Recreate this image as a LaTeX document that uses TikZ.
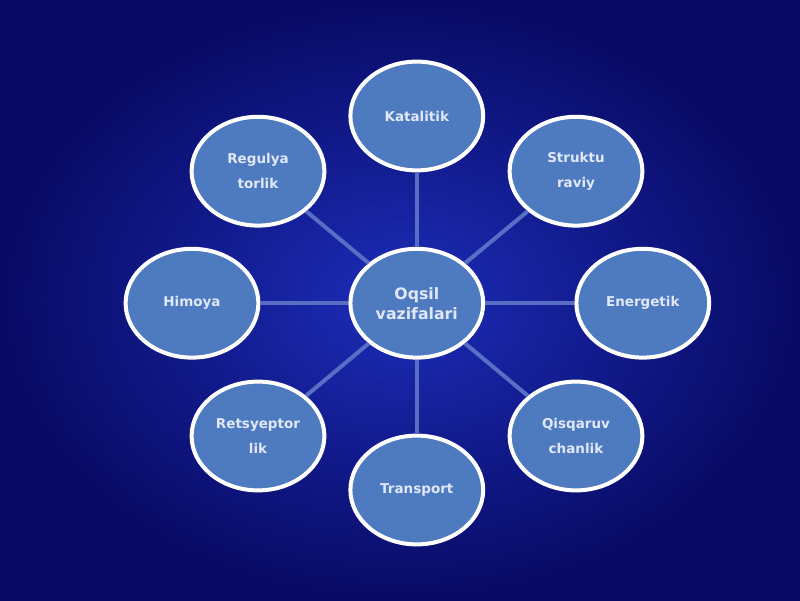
\documentclass[tikz,border=0pt]{standalone}
\usepackage{fontspec}
\setmainfont{DejaVu Sans}
\usepackage{tikz}
\usetikzlibrary{shapes.geometric}

\definecolor{bgdark}{RGB}{8,10,100}
\definecolor{bglight}{RGB}{28,45,185}
\definecolor{ballfill}{RGB}{78,122,192}
\definecolor{spoke}{RGB}{88,110,196}
\definecolor{labeltext}{RGB}{225,232,250}

\tikzset{
    ball/.style={ellipse, draw=white, line width=0.1cm, fill=ballfill,
        minimum width=3.32cm, minimum height=2.72cm, align=center,
        text=labeltext, font=\bfseries\fontsize{9.6}{17.8}\selectfont},
    hub/.style={ball, font=\bfseries\fontsize{11.2}{14.2}\selectfont},
    spokeline/.style={draw=spoke, line width=0.1cm}
}

\begin{document}
\begin{tikzpicture}
        \shade[inner color=bglight, outer color=bgdark] (0,0) rectangle (20,15);
        \useasboundingbox (0,0) rectangle (20,15);
        % ring of functions round the hub
        \node[hub] (oqsil) at (10.42,7.42) {Oqsil\\vazifalari};
        \node[ball] (katal) at (10.42,12.1) {Katalitik};
        \node[ball] (strukt) at (14.4,10.72) {Struktu\\raviy};
        \node[ball] (energ) at (16.07,7.42) {Energetik};
        \node[ball] (qisq) at (14.4,4.1) {Qisqaruv\\chanlik};
        \node[ball] (trans) at (10.42,2.75) {Transport};
        \node[ball] (retsep) at (6.45,4.1) {Retsyeptor\\lik};
        \node[ball] (himoya) at (4.8,7.42) {Himoya};
        \node[ball] (regul) at (6.45,10.72) {Regulya\\torlik};
        % spokes
        \draw[spokeline] (oqsil) -- (katal);
        \draw[spokeline] (oqsil) -- (strukt);
        \draw[spokeline] (oqsil) -- (energ);
        \draw[spokeline] (oqsil) -- (qisq);
        \draw[spokeline] (oqsil) -- (trans);
        \draw[spokeline] (oqsil) -- (retsep);
        \draw[spokeline] (oqsil) -- (himoya);
        \draw[spokeline] (oqsil) -- (regul);
    \end{tikzpicture}
\end{document}
